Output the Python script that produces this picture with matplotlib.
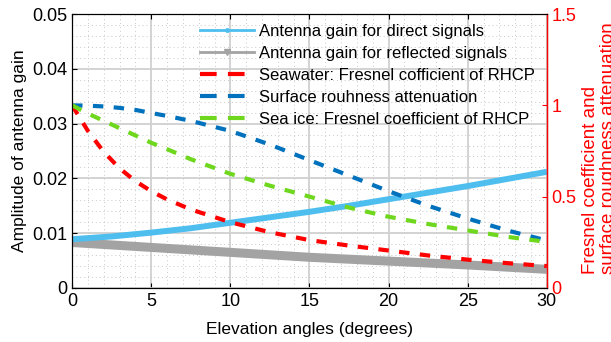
import numpy as np
import matplotlib
matplotlib.use("Agg")
import matplotlib.pyplot as plt
from matplotlib.lines import Line2D
from matplotlib.ticker import MultipleLocator

plt.rcParams['font.family'] = ['Liberation Sans', 'DejaVu Sans']

# antenna gain (left axis)
gain_angles = [0, 2.5, 5, 7.5, 10, 12.5, 15, 17.5, 20, 22.5, 25, 27.5, 30]
gain_direct = [0.0089, 0.0094, 0.0101, 0.0109, 0.0119, 0.0129, 0.0139,
               0.0150, 0.0162, 0.0174, 0.0186, 0.0199, 0.0212]
gain_reflected = [0.0083, 0.00785, 0.0074, 0.00695, 0.0065, 0.00605, 0.0056,
                  0.00525, 0.0049, 0.00455, 0.0042, 0.0038, 0.0034]

# Fresnel coefficients and roughness (right axis)
coef_angles = [0, 1, 2, 3, 4, 5, 6, 7.5, 10, 12.5, 15, 17.5, 20, 22.5, 25, 27.5, 30]
seawater = [1.0, 0.86, 0.745, 0.655, 0.585, 0.53, 0.485, 0.43, 0.36, 0.305,
            0.262, 0.232, 0.205, 0.178, 0.155, 0.136, 0.12]
roughness = [1.0, 0.998, 0.994, 0.986, 0.975, 0.958, 0.942, 0.915, 0.86, 0.785,
             0.70, 0.615, 0.53, 0.45, 0.38, 0.315, 0.26]
sea_ice = [1.0, 0.955, 0.915, 0.875, 0.835, 0.795, 0.76, 0.705, 0.625, 0.56,
           0.50, 0.44, 0.39, 0.35, 0.315, 0.28, 0.252]

c_direct = '#4DBEEE'
c_refl = '#A3A3A3'
c_sea = '#FF0000'
c_rough = '#0072BD'
c_ice = '#6FD81E'

fig = plt.figure(figsize=(6.11, 3.42), dpi=100)
ax = fig.add_axes([0.118, 0.158, 0.777, 0.801])

ax.plot(gain_angles, gain_reflected, color=c_refl, lw=6.5, solid_capstyle='butt')
ax.plot(gain_angles, gain_direct, color=c_direct, lw=4.3, solid_capstyle='butt')

ax.set_xlim(0, 30)
ax.set_ylim(0, 0.05)
ax.xaxis.set_major_locator(MultipleLocator(5))
ax.xaxis.set_minor_locator(MultipleLocator(1))
ax.yaxis.set_major_locator(MultipleLocator(0.01))
ax.yaxis.set_minor_locator(MultipleLocator(0.002))
ax.set_yticks([0, 0.01, 0.02, 0.03, 0.04, 0.05])
ax.set_yticklabels(['0', '0.01', '0.02', '0.03', '0.04', '0.05'])
ax.grid(which='major', color='#D0D0D0', lw=1.3)
ax.grid(which='minor', color='#C8C8C8', lw=0.7, ls=(0, (1, 3)))
ax.set_axisbelow(True)
ax.tick_params(which='both', direction='in', top=True, labelsize=13)
ax.tick_params(which='minor', length=0)
ax.tick_params(axis='y', which='both', right=False)
ax.set_xlabel('Elevation angles (degrees)', fontsize=12.5, labelpad=9)
ax.set_ylabel('Amplitude of antenna gain', fontsize=12.5, labelpad=4)

ax2 = ax.twinx()
dash = (0, (2.5, 2.5))
ax2.plot(coef_angles, seawater, color=c_sea, lw=3, ls=dash)
ax2.plot(coef_angles, roughness, color=c_rough, lw=3, ls=dash)
ax2.plot(coef_angles, sea_ice, color=c_ice, lw=3, ls=dash)
ax2.set_ylim(0, 1.5)
ax2.set_yticks([0, 0.5, 1, 1.5])
ax2.set_yticklabels(['0', '0.5', '1', '1.5'])
ax2.tick_params(direction='in', colors=c_sea, labelsize=13)
ax2.spines['right'].set_color(c_sea)
ax2.spines['right'].set_linewidth(1.0)

fig.text(0.981, 0.2, 'Fresnel coefficient and\nsurface roughness attenuation',
         rotation=90, ha='center', va='bottom', multialignment='left',
         color=c_sea, fontsize=13.5, linespacing=1.05)

handles = [
    Line2D([], [], color=c_direct, lw=2, marker='.', markersize=5, markevery=[1]),
    Line2D([], [], color=c_refl, lw=2, marker='v', markersize=5, markevery=[1]),
    Line2D([], [], color=c_sea, lw=3, ls=(0, (4, 2.7))),
    Line2D([], [], color=c_rough, lw=3, ls=(0, (4, 2.7))),
    Line2D([], [], color=c_ice, lw=3, ls=(0, (4, 2.7))),
]
for h in handles[:2]:
    h.set_xdata([0, 0.5, 1])
labels = ['Antenna gain for direct signals',
          'Antenna gain for reflected signals',
          'Seawater: Fresnel cofficient of RHCP',
          'Surface rouhness attenuation',
          'Sea ice: Fresnel coefficient of RHCP']
ax2.legend(handles, labels, loc='upper left', bbox_to_anchor=(0.27, 0.965),
           frameon=False, fontsize=12, handlelength=3.2, handletextpad=0.3,
           labelspacing=0.42, borderaxespad=0, borderpad=0)

fig.savefig('out.png', dpi=100)
